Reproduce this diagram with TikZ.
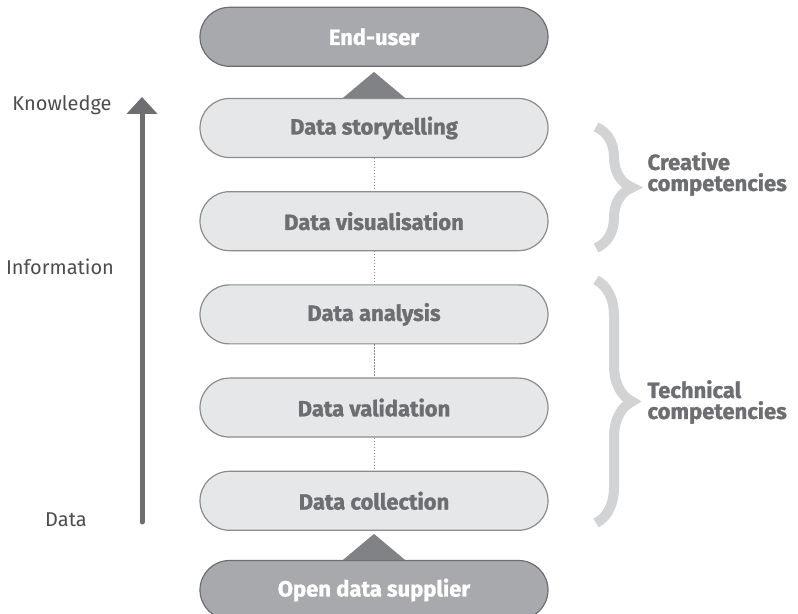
\documentclass[tikz,border=0pt]{standalone}
\usepackage{fontspec}
\setmainfont{Fira Sans}
\newfontfamily\heavyfont{Fira Sans}[BoldFeatures={FakeBold=1.3}]
\usetikzlibrary{positioning,arrows.meta,decorations.pathreplacing,calc}
\definecolor{pillfill}{HTML}{E6E7E8}
\definecolor{pilldraw}{HTML}{8A8C8E}
\definecolor{darkfill}{HTML}{A7A9AC}
\definecolor{textgrey}{HTML}{6D6E71}
\definecolor{labelgrey}{HTML}{4D4D4F}
\definecolor{trigrey}{HTML}{808285}
\definecolor{bracegrey}{HTML}{D1D3D4}

\begin{document}
\begin{tikzpicture}[x=1bp,y=1bp,
        pill/.style={rectangle, rounded corners=29.5bp, minimum width=348bp, minimum height=59bp,
            draw=pilldraw, line width=1.2bp, fill=pillfill, text=textgrey,
            font=\fontsize{22bp}{24bp}\selectfont\heavyfont\bfseries},
        endpill/.style={pill, fill=darkfill, draw=textgrey, text=white},
        link/.style={draw=pilldraw, line width=1bp, dash pattern=on 1.2bp off 1.8bp},
        feed/.style={fill=trigrey},
        axis/.style={draw=textgrey, line width=5bp, line cap=round, -{Triangle[width=30bp,length=17bp]}},
        side/.style={text=labelgrey, font=\fontsize{20bp}{22bp}\selectfont},
        curly/.style={draw=bracegrey, line width=10bp, decorate, decoration={brace, amplitude=36bp, aspect=0.5}},
        group/.style={anchor=west, align=left, text=textgrey, font=\fontsize{22bp}{21bp}\selectfont\heavyfont\bfseries}]
    \useasboundingbox (0,0) rectangle (798,614);

    \node[pill] (story) at (374,486) {Data storytelling};
    \node[endpill, above=31bp of story] (user) {End-user};
    \node[pill, below=33bp of story] (visual) {Data visualisation};
    \node[pill, below=33bp of visual] (analysis) {Data analysis};
    \node[pill, below=33bp of analysis] (validation) {Data validation};
    \node[pill, below=33bp of validation] (collection) {Data collection};
    \node[endpill, below=29bp of collection] (supplier) {Open data supplier};

    \foreach \a/\b in {story/visual, visual/analysis, analysis/validation, validation/collection}
        \draw[link] (\a) -- (\b);

    \fill[feed] ([xshift=-31bp]story.north) -- ([xshift=31bp]story.north) -- ($(story.north)+(0,26)$) -- cycle;
    \fill[feed] ([xshift=-31bp]supplier.north) -- ([xshift=31bp]supplier.north) -- ($(supplier.north)+(0,26)$) -- cycle;

    \coordinate (low) at (142,92);
    \coordinate (high) at (142,517);
    \draw[axis] (low) -- (high);
    \node[side] (knowledge) at (62,509) {Knowledge};
    \node[side] (information) at (60,347) {Information};
    \node[side] (data) at (66,94) {Data};

    \coordinate (ctop) at (596,487);
    \coordinate (cbot) at (596,366);
    \coordinate (ttop) at (596,334);
    \coordinate (tbot) at (596,91);
    \draw[curly] (ctop) -- (cbot);
    \draw[curly] (ttop) -- (tbot);
    \node[group] (creative) at (644,440) {Creative\\competencies};
    \node[group] (technical) at (644,212) {Technical\\competencies};
\end{tikzpicture}
\end{document}
